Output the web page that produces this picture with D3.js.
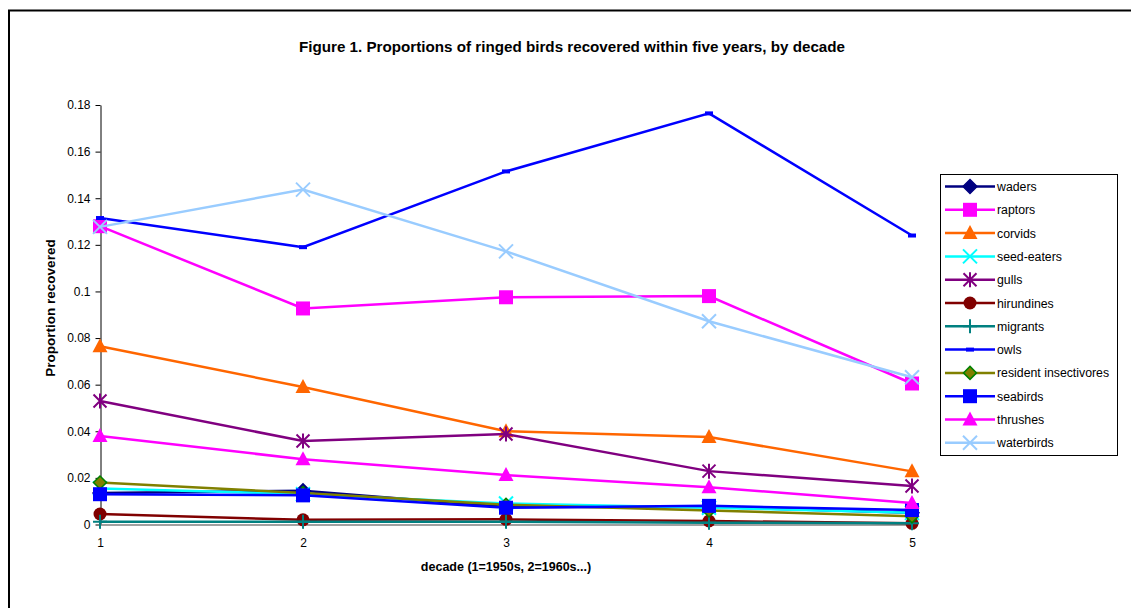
<!DOCTYPE html>
<html><head><meta charset="utf-8">
<script src="https://cdn.jsdelivr.net/npm/d3@7"></script>
<style>body{margin:0;background:#fff;} svg{display:block;font-family:"Liberation Sans",Arial,sans-serif;}</style>
</head><body>
<script>
const decades = [1, 2, 3, 4, 5];
const yTicks = [0, 0.02, 0.04, 0.06, 0.08, 0.1, 0.12, 0.14, 0.16, 0.18];
const seriesNames = ["waders","raptors","corvids","seed-eaters","gulls","hirundines","migrants","owls","resident insectivores","seabirds","thrushes","waterbirds"];
const waders = [0.0135, 0.0145, 0.0075, 0.0075, 0.005];
const raptors = [0.128, 0.0927, 0.0975, 0.098, 0.0605];
const corvids = [0.0765, 0.059, 0.040, 0.0375, 0.0228];
const seedEaters = [0.0155, 0.013, 0.009, 0.0072, 0.005];
const gulls = [0.053, 0.0358, 0.0388, 0.0229, 0.0165];
const hirundines = [0.0045, 0.002, 0.0022, 0.0015, 0.0005];
const migrants = [0.0012, 0.0012, 0.0012, 0.0008, 0.0005];
const owls = [0.1315, 0.119, 0.1515, 0.1764, 0.124];
const residentInsectivores = [0.018, 0.0135, 0.0085, 0.006, 0.0035];
const seabirds = [0.013, 0.0125, 0.0072, 0.008, 0.0062];
const thrushes = [0.038, 0.028, 0.0212, 0.016, 0.0092];
const waterbirds = [0.1277, 0.1437, 0.1172, 0.0872, 0.0632];
const seriesValues = [waders, raptors, corvids, seedEaters, gulls, hirundines, migrants, owls, residentInsectivores, seabirds, thrushes, waterbirds];

const styles = [
  {color:"#000080", marker:"diamond", fill:"#000080", mstroke:"#000080"},
  {color:"#FF00FF", marker:"square", fill:"#FF00FF", mstroke:"#FF00FF"},
  {color:"#FF6600", marker:"triangle", fill:"#FF6600", mstroke:"#FF6600"},
  {color:"#00FFFF", marker:"x", fill:"none", mstroke:"#00FFFF"},
  {color:"#800080", marker:"star", fill:"none", mstroke:"#800080"},
  {color:"#800000", marker:"circle", fill:"#800000", mstroke:"#800000"},
  {color:"#008080", marker:"plus", fill:"none", mstroke:"#008080"},
  {color:"#0000FF", marker:"dash", fill:"#0000FF", mstroke:"#0000FF"},
  {color:"#808000", marker:"diamondSmall", fill:"#808000", mstroke:"#008000"},
  {color:"#0000FF", marker:"square", fill:"#0000FF", mstroke:"#0000FF"},
  {color:"#FF00FF", marker:"triangle", fill:"#FF00FF", mstroke:"#FF00FF"},
  {color:"#99CCFF", marker:"x", fill:"none", mstroke:"#99CCFF"}
];

const W = 1131, H = 608;
const svg = d3.select("body").append("svg").attr("width", W).attr("height", H);

svg.append("rect").attr("x", 9).attr("y", 10.5).attr("width", 1200).attr("height", 700)
  .attr("fill", "none").attr("stroke", "#000").attr("stroke-width", 2);

const x = d3.scalePoint().domain(decades).range([100, 912]);
const y = d3.scaleLinear().domain([0, 0.18]).range([524.5, 105]);

// title
svg.append("text").attr("x", 572).attr("y", 52).attr("text-anchor", "middle")
  .attr("font-size", 15.2).attr("font-weight", "bold").attr("fill", "#000")
  .text("Figure 1. Proportions of ringed birds recovered within five years, by decade");

// axes
const yAxis = svg.append("g").attr("transform", "translate(100.5,0)")
  .call(d3.axisLeft(y).tickValues(yTicks).tickFormat(d => d3.format("")(+d.toFixed(2))).tickSize(5).tickSizeOuter(0));
yAxis.select(".domain").attr("stroke", "#000");
yAxis.selectAll(".tick line").attr("stroke", "#000");
yAxis.selectAll(".tick text").attr("font-size", 12).attr("fill", "#000").attr("x", -10)
  .attr("font-family", "Liberation Sans, Arial, sans-serif");

const xAxis = svg.append("g").attr("transform", "translate(0,524.5)")
  .call(d3.axisBottom(x).tickSize(4).tickSizeOuter(0).tickPadding(10));
xAxis.select(".domain").attr("stroke", "#808080").attr("stroke-width", 1.5);
xAxis.selectAll(".tick line").attr("stroke", "#808080");
xAxis.selectAll(".tick text").attr("font-size", 12).attr("fill", "#000")
  .attr("font-family", "Liberation Sans, Arial, sans-serif");

svg.append("text").attr("x", 506).attr("y", 571).attr("text-anchor", "middle")
  .attr("font-size", 12.5).attr("font-weight", "bold").text("decade (1=1950s, 2=1960s...)");
svg.append("text").attr("transform", "translate(55,308) rotate(-90)").attr("text-anchor", "middle")
  .attr("font-size", 13.5).attr("font-weight", "bold").text("Proportion recovered");

function drawMarker(g, cx, cy, st) {
  const m = st.marker;
  if (m === "square") {
    g.append("rect").attr("x", cx - 7).attr("y", cy - 7).attr("width", 14).attr("height", 14).attr("fill", st.fill);
  } else if (m === "diamond" || m === "diamondSmall") {
    const r = m === "diamond" ? 7 : 6.5;
    g.append("path").attr("d", `M${cx},${cy-r}L${cx+r},${cy}L${cx},${cy+r}L${cx-r},${cy}Z`)
      .attr("fill", st.fill).attr("stroke", st.mstroke).attr("stroke-width", 1.5);
  } else if (m === "triangle") {
    g.append("path").attr("d", `M${cx},${cy-8}L${cx+7.5},${cy+6}L${cx-7.5},${cy+6}Z`).attr("fill", st.fill);
  } else if (m === "circle") {
    g.append("circle").attr("cx", cx).attr("cy", cy).attr("r", 6.5).attr("fill", st.fill);
  } else if (m === "x") {
    const r = 7;
    g.append("path").attr("d", `M${cx-r},${cy-r}L${cx+r},${cy+r}M${cx-r},${cy+r}L${cx+r},${cy-r}`)
      .attr("stroke", st.mstroke).attr("stroke-width", 2).attr("fill", "none");
  } else if (m === "star") {
    const r = 6.5;
    g.append("path").attr("d", `M${cx-r},${cy-r}L${cx+r},${cy+r}M${cx-r},${cy+r}L${cx+r},${cy-r}M${cx},${cy-r-1}L${cx},${cy+r+1}`)
      .attr("stroke", st.mstroke).attr("stroke-width", 2).attr("fill", "none");
  } else if (m === "plus") {
    const r = 7;
    g.append("path").attr("d", `M${cx-r},${cy}L${cx+r},${cy}M${cx},${cy-r}L${cx},${cy+r}`)
      .attr("stroke", st.mstroke).attr("stroke-width", 2).attr("fill", "none");
  } else if (m === "dash") {
    g.append("rect").attr("x", cx - 4).attr("y", cy - 2).attr("width", 8).attr("height", 4).attr("fill", st.fill);
  }
}

const line = d3.line().x((d, i) => x(decades[i])).y(d => y(d));
const plot = svg.append("g");
seriesValues.forEach((vals, si) => {
  const st = styles[si];
  const g = plot.append("g");
  g.append("path").datum(vals).attr("d", line).attr("fill", "none")
    .attr("stroke", st.color).attr("stroke-width", 2.5);
  vals.forEach((v, i) => drawMarker(g, x(decades[i]), y(v), st));
});

// legend
const lg = svg.append("g");
lg.append("rect").attr("x", 940.5).attr("y", 174.5).attr("width", 177).attr("height", 281)
  .attr("fill", "#fff").attr("stroke", "#000").attr("stroke-width", 1);
seriesNames.forEach((name, i) => {
  const cy = 186.5 + i * 23.3;
  const st = styles[i];
  lg.append("line").attr("x1", 945).attr("x2", 995).attr("y1", cy).attr("y2", cy)
    .attr("stroke", st.color).attr("stroke-width", 2.5);
  drawMarker(lg, 970, cy, st);
  lg.append("text").attr("x", 997).attr("y", cy + 4.5).attr("font-size", 12.3).attr("fill", "#000").text(name);
});
</script>
</body></html>
